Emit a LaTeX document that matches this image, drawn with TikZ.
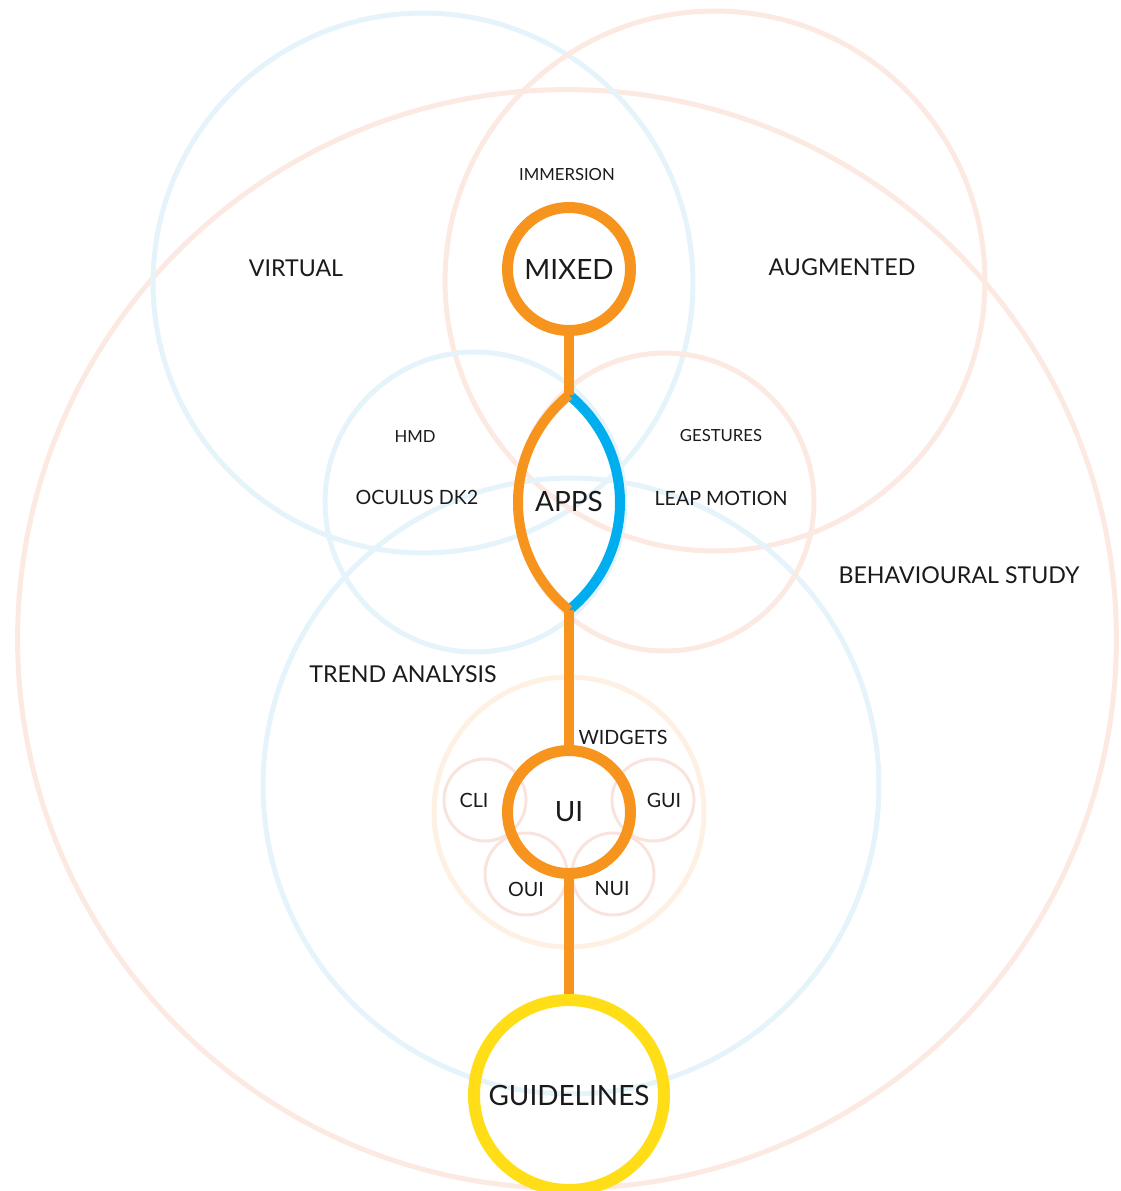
\documentclass[tikz,border=0pt]{standalone}
\usepackage{fontspec}
\setmainfont{Lato}
\usepackage{xcolor}
\usepackage{tikz}
\definecolor{mixOrange}{HTML}{F7941D}
\definecolor{appBlue}{HTML}{00AEEF}
\definecolor{guideYellow}{HTML}{FFDE17}
\definecolor{skyRing}{HTML}{E5F3FB}
\definecolor{peachRing}{HTML}{FCE9E1}
\definecolor{sandRing}{HTML}{FEF1E3}
\definecolor{roseRing}{HTML}{F9E3DD}
\definecolor{inkCol}{HTML}{1A1A1A}
\tikzset{
  ring/.style n args={3}{circle, draw=#1, line width=#2, inner sep=0pt, minimum size=#3},
  hub/.style n args={3}{circle, draw=#1, line width=#2, inner sep=0pt, minimum size=#3,
        text=inkCol, font=\fontsize{15.9}{18}\selectfont},
  stem/.style={draw=mixOrange, line width=0.2cm},
  bigLbl/.style={text=inkCol, font=\fontsize{13.2}{15}\selectfont, inner sep=0pt},
  midLbl/.style={text=inkCol, font=\fontsize{11.2}{13}\selectfont, inner sep=0pt},
  smallLbl/.style={text=inkCol, font=\fontsize{9.5}{11}\selectfont, inner sep=0pt},
}

\begin{document}
\begin{tikzpicture}[x=0.02cm, y=-0.02cm]
  \useasboundingbox (0,0) rectangle (1120,1191);
  % background rings
  \node[ring={peachRing}{0.1cm}{21.98cm}] (behav) at (567,639) {};
  \node[ring={skyRing}{0.1cm}{10.8cm}] (virt) at (423,283) {};
  \node[ring={peachRing}{0.1cm}{10.8cm}] (augm) at (715,281) {};
  \node[ring={skyRing}{0.1cm}{12.32cm}] (trend) at (571,786) {};
  \node[ring={skyRing}{0.1cm}{6.0cm}] (hmd) at (475,502) {};
  \node[ring={peachRing}{0.1cm}{5.96cm}] (gest) at (665,502) {};
  \node[ring={sandRing}{0.1cm}{5.4cm}] (widg) at (569,812) {};
  \node[ring={roseRing}{0.06cm}{1.64cm}] (cli) at (485,800) {};
  \node[ring={roseRing}{0.06cm}{1.64cm}] (gui) at (653,800) {};
  \node[ring={roseRing}{0.06cm}{1.64cm}] (oui) at (526,874) {};
  \node[ring={roseRing}{0.06cm}{1.64cm}] (nui) at (613,874) {};

  % labels
  \node[smallLbl] (immLbl) at (567,175) {IMMERSION};
  \node[bigLbl] (virtLbl) at (296,268) {VIRTUAL};
  \node[bigLbl] (augmLbl) at (842,267) {AUGMENTED};
  \node[smallLbl] (hmdLbl) at (415,437) {HMD};
  \node[midLbl] (dkLbl) at (417,497) {OCULUS DK2};
  \node[smallLbl] (gestLbl) at (721,436) {GESTURES};
  \node[midLbl] (leapLbl) at (721,498) {LEAP MOTION};
  \node[bigLbl] (behavLbl) at (959,575) {BEHAVIOURAL STUDY};
  \node[bigLbl] (trendLbl) at (403,674) {TREND ANALYSIS};
  \node[midLbl] (widgLbl) at (623,737) {WIDGETS};
  \node[midLbl] (cliLbl) at (474,800) {CLI};
  \node[midLbl] (guiLbl) at (664,800) {GUI};
  \node[midLbl] (ouiLbl) at (526,889) {OUI};
  \node[midLbl] (nuiLbl) at (612,889) {NUI};

  % main chain
  \node[hub={mixOrange}{0.22cm}{2.46cm}] (mixed) at (569,269) {MIXED};
  \node[hub={mixOrange}{0.22cm}{2.46cm}] (ui) at (569,812) {UI};
  \node[hub={guideYellow}{0.24cm}{3.8cm}] (guide) at (569,1095) {GUIDELINES};
  \node[text=inkCol, font=\fontsize{15.9}{18}\selectfont, inner sep=0pt] (apps) at (569,501) {APPS};
  \coordinate (forkTop) at (569,395);
  \coordinate (forkBot) at (569,610);

  \draw[stem, draw=appBlue] (forkTop) .. controls (637,451) and (637,554) .. (forkBot);
  \draw[stem] (forkTop) .. controls (501,451) and (501,554) .. (forkBot);
  \draw[stem] (mixed.south) -- (forkTop);
  \draw[stem] (forkBot) -- (ui.north);
  \draw[stem] (ui.south) -- (guide.north);
\end{tikzpicture}
\end{document}
